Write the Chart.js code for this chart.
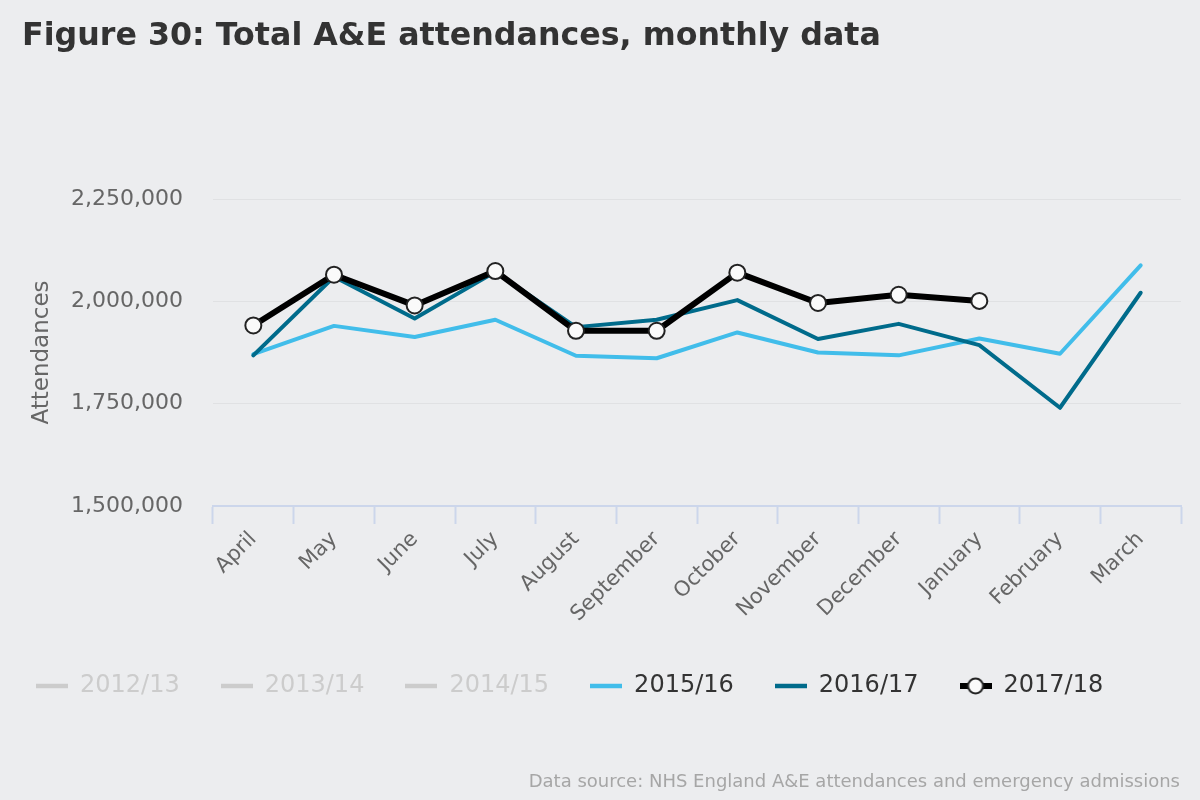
<!DOCTYPE html>
<html>
<head>
<meta charset="utf-8">
<script src="https://cdn.jsdelivr.net/npm/chart.js@4/dist/chart.umd.min.js"></script>
<style>
  body { margin: 0; background: #ecedef; }
  #wrap { position: relative; width: 1200px; height: 800px; background: #ecedef; }
  #title { position: absolute; left: 22px; top: 19px; margin: 0; font: bold 31.7px/31px "DejaVu Sans", sans-serif; color: #333; white-space: nowrap; }
  #source { position: absolute; right: 20px; top: 771px; font: 18px/20px "DejaVu Sans", sans-serif; color: #a6a6a6; white-space: nowrap; }
</style>
</head>
<body>
<div id="wrap">
  <canvas id="chart" width="1200" height="800"></canvas>
  <h1 id="title">Figure 30: Total A&amp;E attendances, monthly data</h1>
  <div id="source">Data source: NHS England A&amp;E attendances and emergency admissions</div>
</div>
<script>
// Months of the financial year
const months = ['April', 'May', 'June', 'July', 'August', 'September', 'October', 'November', 'December', 'January', 'February', 'March'];

// Series values; hidden years carry no visible data
const fy1213 = [];
const fy1314 = [];
const fy1415 = [];
const fy1516 = [1871000, 1940000, 1913000, 1955000, 1867000, 1861000, 1924000, 1875000, 1868000, 1909000, 1872000, 2088000];
const fy1617 = [1868000, 2060000, 1958000, 2072000, 1937000, 1955000, 2003000, 1908000, 1945000, 1893000, 1740000, 2021000];
const fy1718 = [1941000, 2065000, 1990000, 2074000, 1928000, 1928000, 2070000, 1996000, 2016000, 2001000, null, null];

// Y axis ticks
const yTicks = [1500000, 1750000, 2000000, 2250000];

const hiddenGrey = '#cccccc';

// small canvas used as legend symbol (a line, optionally with a circle marker)
function makeSymbol(color, marker) {
    const c = document.createElement('canvas');
    c.width = 32; c.height = 20;
    const g = c.getContext('2d');
    g.strokeStyle = color;
    g.lineWidth = marker ? 6 : 4.5;
    g.beginPath(); g.moveTo(0, 10); g.lineTo(32, 10); g.stroke();
    if (marker) {
        g.beginPath(); g.arc(16, 10, 7.5, 0, Math.PI * 2);
        g.fillStyle = '#fafafa'; g.fill();
        g.lineWidth = 2; g.strokeStyle = '#222'; g.stroke();
    }
    return c;
}

function lineSet(label, data, color, width, order, hidden) {
    return {
        label: label,
        data: data,
        borderColor: color,
        backgroundColor: color,
        borderWidth: width,
        borderCapStyle: 'round',
        borderJoinStyle: 'round',
        pointRadius: 0,
        pointHoverRadius: 0,
        tension: 0,
        fill: false,
        order: order,
        hidden: hidden
    };
}

const datasets = [
    lineSet('2012/13', fy1213, hiddenGrey, 4, 5, true),
    lineSet('2013/14', fy1314, hiddenGrey, 4, 4, true),
    lineSet('2014/15', fy1415, hiddenGrey, 4, 3, true),
    lineSet('2015/16', fy1516, '#41bdea', 4, 2, false),
    lineSet('2016/17', fy1617, '#006b8b', 4, 1, false),
    Object.assign(lineSet('2017/18', fy1718, '#000000', 6, 0, false), {
        pointRadius: 8,
        pointHoverRadius: 8,
        pointBackgroundColor: '#fafafa',
        pointBorderColor: '#222222',
        pointBorderWidth: 2,
        spanGaps: false
    })
];

const ctx = document.getElementById('chart').getContext('2d');
new Chart(ctx, {
    type: 'line',
    data: { labels: months, datasets: datasets },
    options: {
        responsive: false,
        animation: false,
        devicePixelRatio: 1,
        layout: { padding: { left: -5, right: 19, top: 199, bottom: 92 } },
        plugins: {
            tooltip: { enabled: false },
            legend: {
                position: 'bottom',
                align: 'start',
                labels: {
                    usePointStyle: true,
                    pointStyleWidth: 32,
                    padding: 41,
                    font: { family: "'DejaVu Sans', sans-serif", size: 24 },
                    generateLabels: (chart) => chart.data.datasets.map((ds, i) => {
                        const off = ds.hidden;
                        return {
                            text: ds.label,
                            datasetIndex: i,
                            hidden: false, // keep text without strike-through
                            fontColor: off ? hiddenGrey : '#333333',
                            pointStyle: makeSymbol(off ? hiddenGrey : ds.borderColor, ds.label === '2017/18'),
                            lineWidth: 0,
                            strokeStyle: 'transparent',
                            fillStyle: 'transparent'
                        };
                    })
                }
            }
        },
        scales: {
            x: {
                offset: true,
                border: { display: true, color: '#ccd6eb', width: 2 },
                grid: { offset: true, drawOnChartArea: false, drawTicks: true, tickLength: 18, tickWidth: 2, color: '#ccd6eb' },
                ticks: {
                    minRotation: 45,
                    maxRotation: 45,
                    padding: 3,
                    color: '#666666',
                    font: { family: "'DejaVu Sans', sans-serif", size: 21 }
                },
                afterFit: (scale) => { scale.height = 127; }
            },
            y: {
                min: 1500000,
                max: 2250000,
                afterBuildTicks: (scale) => { scale.ticks = yTicks.map(v => ({ value: v })); },
                border: { display: false },
                grid: { color: '#e0e1e3', lineWidth: 1, drawTicks: false },
                ticks: {
                    padding: 30,
                    color: '#666666',
                    font: { family: "'DejaVu Sans', sans-serif", size: 22 }, 
                    callback: (v) => v.toLocaleString('en-US')
                },
                title: {
                    display: true,
                    text: 'Attendances',
                    color: '#666666',
                    padding: { top: 33, bottom: 0 },
                    font: { family: "'DejaVu Sans', sans-serif", size: 23 }
                },
                afterFit: (scale) => { scale.width = 218; }
            }
        }
    }
});
</script>
</body>
</html>
